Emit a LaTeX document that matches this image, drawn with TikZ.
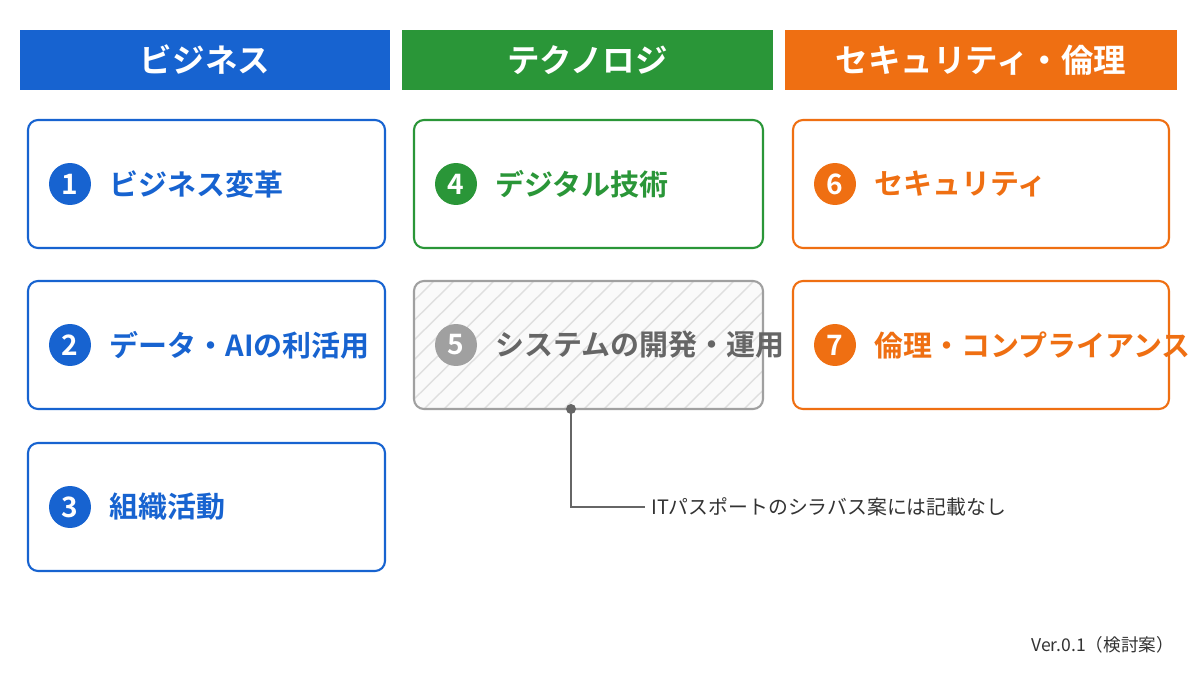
\documentclass[tikz,border=0pt]{standalone}
\usepackage{fontspec}
\setmainfont{Noto Sans CJK JP}[BoldFont={Noto Sans CJK JP Bold}]
\usetikzlibrary{calc}
\definecolor{biz}{HTML}{1763D0}
\definecolor{tech}{HTML}{2A9638}
\definecolor{sec}{HTML}{EF6F12}
\definecolor{off}{HTML}{A0A0A0}
\tikzstyle{header}=[draw=none,minimum height=1.2cm,text=white,font=\bfseries\fontsize{18.5}{20}\selectfont]
\tikzstyle{topic}=[rounded corners=.2cm,line width=1.2pt,fill=white]
\tikzstyle{badge}=[circle,minimum size=.84cm,inner sep=0pt,text=white,font=\bfseries\fontsize{16}{17}\selectfont]
\tikzstyle{label}=[anchor=west,font=\bfseries\fontsize{16.5}{18}\selectfont]
\newcommand{\topic}[7]{
	\draw[topic,draw=#2] (#3,#4) rectangle (#5,#4+128);
	\node[badge,fill=#2] (n#1) at (#3+42,#4+64) {#1};
	\node[label,text=#2] (t#1) at ($(n#1.east)+(12,0)$) {#7};
}
\begin{document}
\begin{tikzpicture}[x=0.02cm,y=-0.02cm]
	\useasboundingbox[fill=white] (0,0) rectangle (1200,675);
%
	\node[header,fill=biz,minimum width=7.4cm] (hbiz) at (205,60) {ビジネス};
	\node[header,fill=tech,minimum width=7.42cm] (htech) at (587.5,60) {テクノロジ};
	\node[header,fill=sec,minimum width=7.84cm] (hsec) at (981,60) {セキュリティ・倫理};
%
	\topic{1}{biz}{28}{120}{385}{}{ビジネス変革}
	\topic{2}{biz}{28}{281}{385}{}{データ・AIの利活用}
	\topic{3}{biz}{28}{443}{385}{}{組織活動}
	\topic{4}{tech}{414}{120}{763}{}{デジタル技術}
	\fill[gray!4,rounded corners=.2cm] (414,281) rectangle (763,409);
	\begin{scope}
		\clip[rounded corners=.2cm] (414,281) rectangle (763,409);
		\foreach \i in {0,20,...,480}
			\draw[gray!25,line width=.8pt] (414+\i-130,409) -- (414+\i,281);
	\end{scope}
	\draw[topic,draw=off,fill=none] (414,281) rectangle (763,409);
	\node[badge,fill=off] (n5) at (456,345) {5};
	\node[label,text=gray!80!black] (t5) at ($(n5.east)+(12,0)$) {システムの開発・運用};
	\topic{6}{sec}{793}{120}{1169}{}{セキュリティ}
	\topic{7}{sec}{793}{281}{1169}{}{倫理・コンプライアンス}
%
	\coordinate (dot) at (571,409);
	\node[anchor=west,font=\fontsize{11.3}{13}\selectfont,text=black!80] (note) at (645,507) {ITパスポートのシラバス案には記載なし};
	\fill[black!60] (dot) circle (.1cm);
	\draw[black!60,line width=1pt] (dot) |- (note.west);
%
	\node[anchor=east,font=\fontsize{10}{12}\selectfont,text=black!80] (ver) at (1180,645) {Ver.0.1（検討案）};
\end{tikzpicture}
\end{document}
